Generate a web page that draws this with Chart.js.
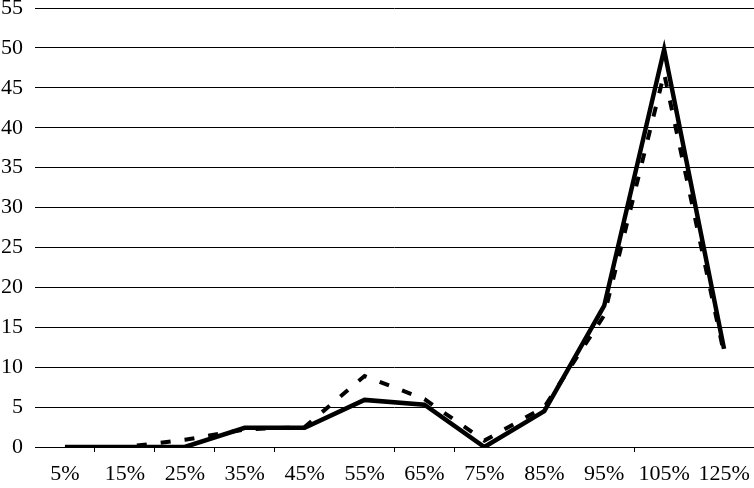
<!DOCTYPE html>
<html>
<head>
<meta charset="utf-8">
<script src="https://cdn.jsdelivr.net/npm/chart.js@4/dist/chart.umd.min.js"></script>
<style>
  html, body { margin: 0; padding: 0; background: #fff; }
  #wrap { width: 754px; height: 488px; position: relative; }
</style>
</head>
<body>
<div id="wrap"><canvas id="c" width="754" height="488"></canvas></div>
<script>
const categories = ['5%', '15%', '25%', '35%', '45%', '55%', '65%', '75%', '85%', '95%', '105%', '125%'];
const solidValues = [0, 0, 0, 2.4, 2.4, 5.9, 5.3, 0, 4.5, 17.7, 49.8, 12.3];
const dashedValues = [0, 0, 0.9, 2.2, 2.5, 8.9, 6.0, 0.8, 5.0, 16.5, 46.8, 11.7];
const yTicks = [0, 5, 10, 15, 20, 25, 30, 35, 40, 45, 50, 55];
const hiddenTickMarks = [0, 5, 8, 9, 11];

const serif = "'Liberation Serif', 'Times New Roman', serif";

new Chart(document.getElementById('c'), {
  type: 'line',
  data: {
    labels: categories,
    datasets: [
      {
        label: 'dashed',
        data: dashedValues,
        borderColor: '#000',
        borderWidth: 4,
        borderDash: [10, 14],
        pointRadius: 0,
        tension: 0,
        fill: false
      },
      {
        label: 'solid',
        data: solidValues,
        borderColor: '#000',
        borderWidth: 4.5,
        pointRadius: 0,
        tension: 0,
        fill: false
      }
    ]
  },
  options: {
    responsive: false,
    animation: false,
    devicePixelRatio: 1,
    layout: { padding: 0 },
    plugins: { legend: { display: false }, tooltip: { enabled: false } },
    scales: {
      x: {
        type: 'category',
        offset: true,
        afterFit: (scale) => { scale.height = 41; scale.paddingLeft = 0; scale.paddingRight = 0; },
        grid: {
          offset: true,
          drawOnChartArea: false,
          drawTicks: true,
          tickLength: 5,
          lineWidth: 1,
          color: (ctx) => hiddenTickMarks.includes(ctx.index) ? 'rgba(0,0,0,0)' : '#000'
        },
        border: { display: true, color: '#000', width: 1 },
        ticks: {
          color: '#000',
          font: { family: serif, size: 22, lineHeight: 1.2 },
          padding: 9,
          autoSkip: false,
          maxRotation: 0
        }
      },
      y: {
        min: 0,
        max: 55,
        afterFit: (scale) => { scale.width = 35; scale.paddingTop = 8; scale.paddingBottom = 0; },
        afterBuildTicks: (scale) => { scale.ticks = yTicks.map(v => ({ value: v })); },
        grid: {
          drawTicks: false,
          color: '#000',
          lineWidth: 1
        },
        border: { display: false },
        ticks: {
          color: '#000',
          font: { family: serif, size: 22, lineHeight: 1.2 },
          padding: 12
        }
      }
    }
  }
});
</script>
</body>
</html>
